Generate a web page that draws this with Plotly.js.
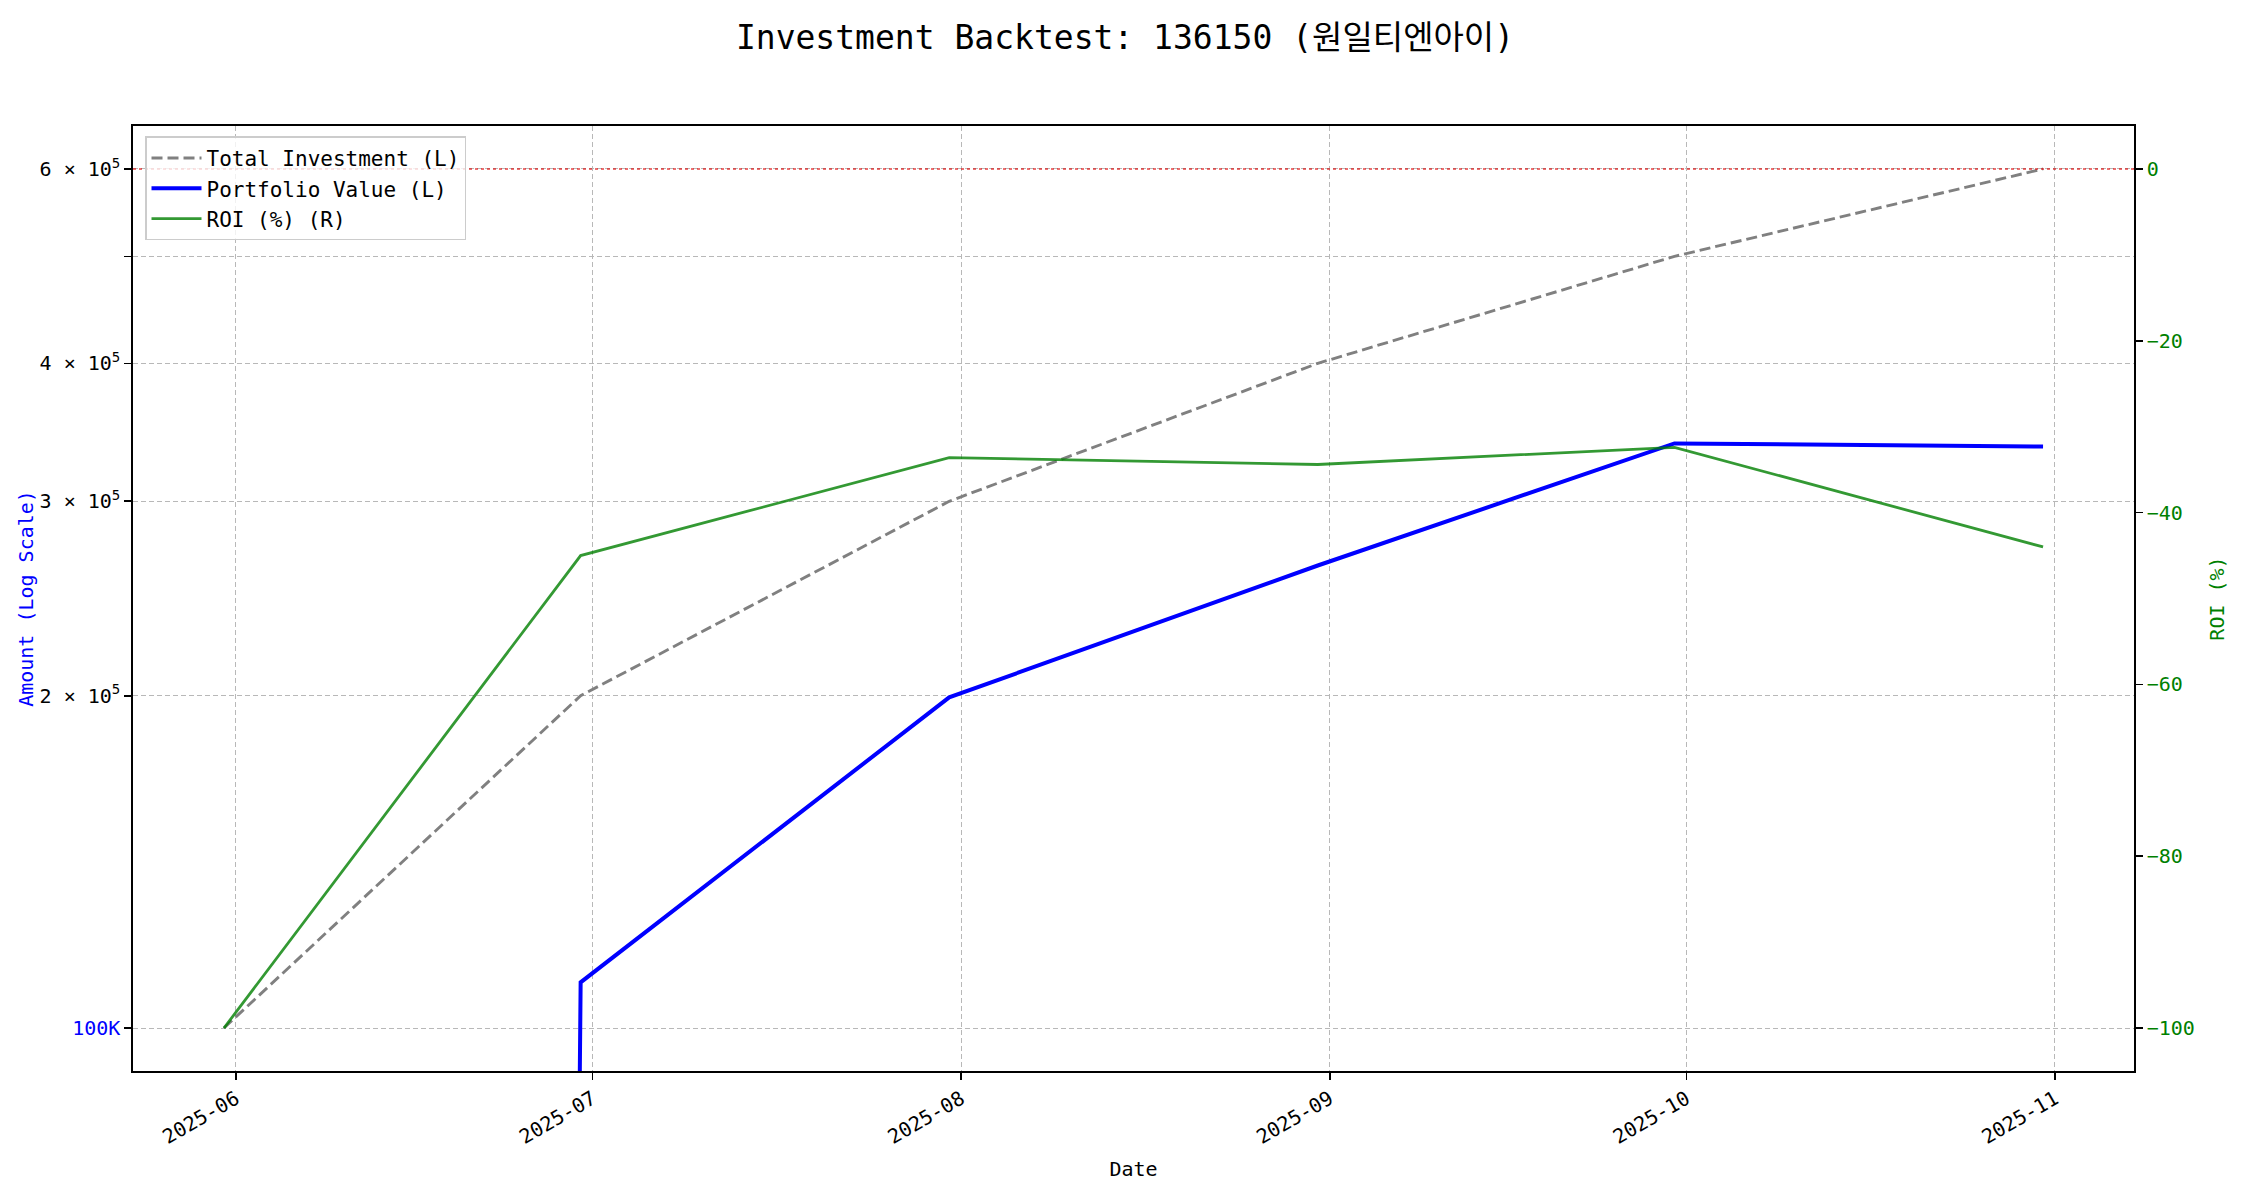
<!DOCTYPE html>
<html>
<head>
<meta charset="utf-8">
<script src="https://cdn.plot.ly/plotly-3.0.1.min.js"></script>
<style>
  html, body { margin: 0; padding: 0; background: #ffffff; }
  #chart { width: 2250px; height: 1200px; }
</style>
</head>
<body>
<div id="chart"></div>
<script>
// ---- Data ----
const dates = ['2025-05-31', '2025-06-30', '2025-07-31', '2025-08-31', '2025-09-30', '2025-10-31'];
const totalInvestment = [100000, 200000, 300000, 400000, 500000, 600000];
const portfolioValue = [0, 110000, 199300, 262400, 338500, 336300];
const roiPercent = [-100, -45.0, -33.6, -34.4, -32.4, -44.0];

const leftTickVals = [100000, 200000, 300000, 400000, 500000, 600000];
const leftTickText = [
  '<span style="color:#0000ff">100K</span>',
  '2 × 10<sup>5</sup>',
  '3 × 10<sup>5</sup>',
  '4 × 10<sup>5</sup>',
  '',
  '6 × 10<sup>5</sup>'
];
const roiTickVals = [-100, -80, -60, -40, -20, 0];
const roiBreakeven = 0;

const titleText = 'Investment Backtest: 136150 (원일티엔아이)';

// ---- Helpers: matplotlib-like auto margins & log clipping ----
const FONT = '"DejaVu Sans Mono", "Noto Sans CJK KR", monospace';
function clipLog(v) { return v > 0 ? v : 1e-30; }
const tMin = Date.parse(dates[0]), tMax = Date.parse(dates[dates.length - 1]);
const tPad = (tMax - tMin) * 0.05;
function iso(t) { return new Date(t).toISOString().slice(0, 19).replace('T', ' '); }
const lMin = Math.log10(Math.min(...totalInvestment)), lMax = Math.log10(Math.max(...totalInvestment));
const lPad = (lMax - lMin) * 0.05;
const rMin = Math.min(...roiPercent, roiBreakeven), rMax = Math.max(...roiPercent, roiBreakeven);
const rPad = (rMax - rMin) * 0.05;

const GRID = { showgrid: true, gridcolor: '#b8b8b8', gridwidth: 1, griddash: '5px,3px' };
const TICKS = { ticks: 'outside', ticklen: 7, tickwidth: 1.7, tickcolor: '#000000' };

const traces = [
  {
    x: dates, y: totalInvestment, type: 'scatter', mode: 'lines',
    name: 'Total Investment (L)',
    line: { color: '#808080', width: 2.9, dash: '11px,5px' },
    yaxis: 'y'
  },
  {
    x: dates, y: portfolioValue.map(clipLog), type: 'scatter', mode: 'lines',
    name: 'Portfolio Value (L)',
    line: { color: '#0000ff', width: 4 },
    yaxis: 'y'
  },
  {
    x: dates, y: roiPercent, type: 'scatter', mode: 'lines',
    name: 'ROI (%) (R)',
    line: { color: 'rgba(0,128,0,0.8)', width: 2.8 },
    yaxis: 'y2'
  }
];

const layout = {
  width: 2250, height: 1200,
  paper_bgcolor: '#ffffff', plot_bgcolor: '#ffffff',
  font: { family: FONT, size: 20, color: '#000000' },
  margin: { l: 133, r: 116, t: 126, b: 129, pad: 0 },
  title: {
    text: titleText,
    font: { family: FONT, size: 33, color: '#000000' },
    x: 0.5, xref: 'container', xanchor: 'center',
    y: 1 - 37 / 1200, yref: 'container', yanchor: 'middle'
  },
  showlegend: true,
  legend: {
    x: 0.006, y: 0.989, xanchor: 'left', yanchor: 'top',
    bgcolor: 'rgba(255,255,255,0.8)', bordercolor: '#cccccc', borderwidth: 1.5,
    font: { family: FONT, size: 21, color: '#000000' },
    itemwidth: 50,
    traceorder: 'normal'
  },
  xaxis: Object.assign({
    type: 'date',
    range: [iso(tMin - tPad), iso(tMax + tPad)],
    tick0: '2025-06-01', dtick: 'M1', tickformat: '%Y-%m',
    tickangle: -30,
    tickfont: { family: FONT, size: 20, color: '#000000' },
    showline: true, linecolor: '#000000', linewidth: 1.7, mirror: true,
    zeroline: false,
    title: { text: 'Date', font: { family: FONT, size: 20, color: '#000000' }, standoff: 14 }
  }, GRID, TICKS),
  yaxis: Object.assign({
    type: 'log',
    range: [lMin - lPad, lMax + lPad],
    tickmode: 'array', tickvals: leftTickVals, ticktext: leftTickText,
    tickfont: { family: FONT, size: 20, color: '#000000' },
    showline: true, linecolor: '#000000', linewidth: 1.7, mirror: true,
    zeroline: false,
    title: { text: 'Amount (Log Scale)', font: { family: FONT, size: 20, color: '#0000ff' }, standoff: 0 }
  }, GRID, TICKS),
  yaxis2: Object.assign({
    overlaying: 'y', side: 'right',
    range: [rMin - rPad, rMax + rPad],
    tickmode: 'array', tickvals: roiTickVals,
    tickfont: { family: FONT, size: 20, color: '#008000' },
    showgrid: false, zeroline: false,
    showline: true, linecolor: '#000000', linewidth: 1.7,
    title: { text: 'ROI (%)', font: { family: FONT, size: 20, color: '#008000' }, standoff: 16 }
  }, TICKS),
  shapes: [
    {
      type: 'line', xref: 'paper', x0: 0, x1: 1,
      yref: 'y2', y0: roiBreakeven, y1: roiBreakeven,
      line: { color: 'rgba(220,0,0,0.75)', width: 1.6, dash: 'dot' },
      layer: 'above'
    }
  ]
};

Plotly.newPlot('chart', traces, layout, { displayModeBar: false, staticPlot: true });
</script>
</body>
</html>
